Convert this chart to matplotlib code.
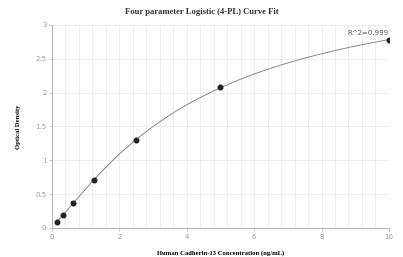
import numpy as np
import matplotlib
matplotlib.use("Agg")
from matplotlib import pyplot as plt
from matplotlib.ticker import MultipleLocator

conc = [0.156, 0.3125, 0.625, 1.25, 2.5, 5, 10]
od = [0.09, 0.19, 0.37, 0.71, 1.30, 2.08, 2.78]
r2_label = "R^2=0.999"


def four_pl(x, p):
    a, b, c, d = p
    return d + (a - d) / (1 + (x / c) ** b)


# small Levenberg-Marquardt fit, no scipy needed
xs = np.array(conc)
ys = np.array(od)
p = np.array([0.0, 1.0, 5.0, 4.0])
lam = 1e-2
for _ in range(500):
    r = ys - four_pl(xs, p)
    J = np.zeros((len(xs), 4))
    for k in range(4):
        dp = np.zeros(4)
        dp[k] = 1e-6 * max(1, abs(p[k]))
        J[:, k] = (four_pl(xs, p + dp) - four_pl(xs, p)) / dp[k]
    A = J.T @ J
    step = np.linalg.solve(A + lam * np.diag(np.diag(A)), J.T @ r)
    p_new = p + step
    if p_new[2] > 0 and np.sum((ys - four_pl(xs, p_new)) ** 2) < np.sum(r ** 2):
        p = p_new
        lam *= 0.5
    else:
        lam *= 4

xfit = np.linspace(min(conc), max(conc), 300)
yfit = four_pl(xfit, p)

fig = plt.figure(figsize=(4.03, 2.57), dpi=100)
ax = fig.add_axes([0.129, 0.113, 0.836, 0.79])

ax.plot(xfit, yfit, color="#888888", lw=0.7, zorder=2)
ax.scatter(conc, od, s=11, color="#222222", zorder=3)
ax.text(conc[-1], od[-1] + 0.06, r2_label, ha="right", va="bottom",
        fontsize=5, color="#555555", family="DejaVu Sans")

ax.set_xlim(0, 10)
ax.set_ylim(0, 3)
ax.xaxis.set_major_locator(MultipleLocator(2))
ax.xaxis.set_minor_locator(MultipleLocator(0.4))
ax.set_yticks([0, 0.5, 1, 1.5, 2, 2.5, 3])
ax.set_yticklabels(["0", "0.5", "1", "1.5", "2", "2.5", "3"])
ax.grid(which="both", color="#ebebf0", lw=0.6, zorder=0)
ax.set_axisbelow(True)

for s in ["top", "right"]:
    ax.spines[s].set_visible(False)
for s in ["left", "bottom"]:
    ax.spines[s].set_color("#aaaaaa")
    ax.spines[s].set_linewidth(0.6)
ax.tick_params(which="major", length=2, width=0.5, color="#aaaaaa",
               labelsize=5, labelcolor="#999999", pad=2)
ax.tick_params(which="minor", length=0)

fig.text(0.5, 0.953, "Four parameter Logistic (4-PL) Curve Fit", ha="center",
         va="center", fontsize=6.2, fontweight="bold", family="Liberation Serif",
         color="#333333")
ax.set_xlabel("Human Cadherin-13 Concentration (ng/mL)", fontsize=4.8,
              fontweight="bold", family="Liberation Serif", labelpad=8)
ax.set_ylabel("Optical Density", fontsize=4.8, fontweight="bold",
              family="Liberation Serif", labelpad=10)

fig.savefig("out.png", dpi=100)
